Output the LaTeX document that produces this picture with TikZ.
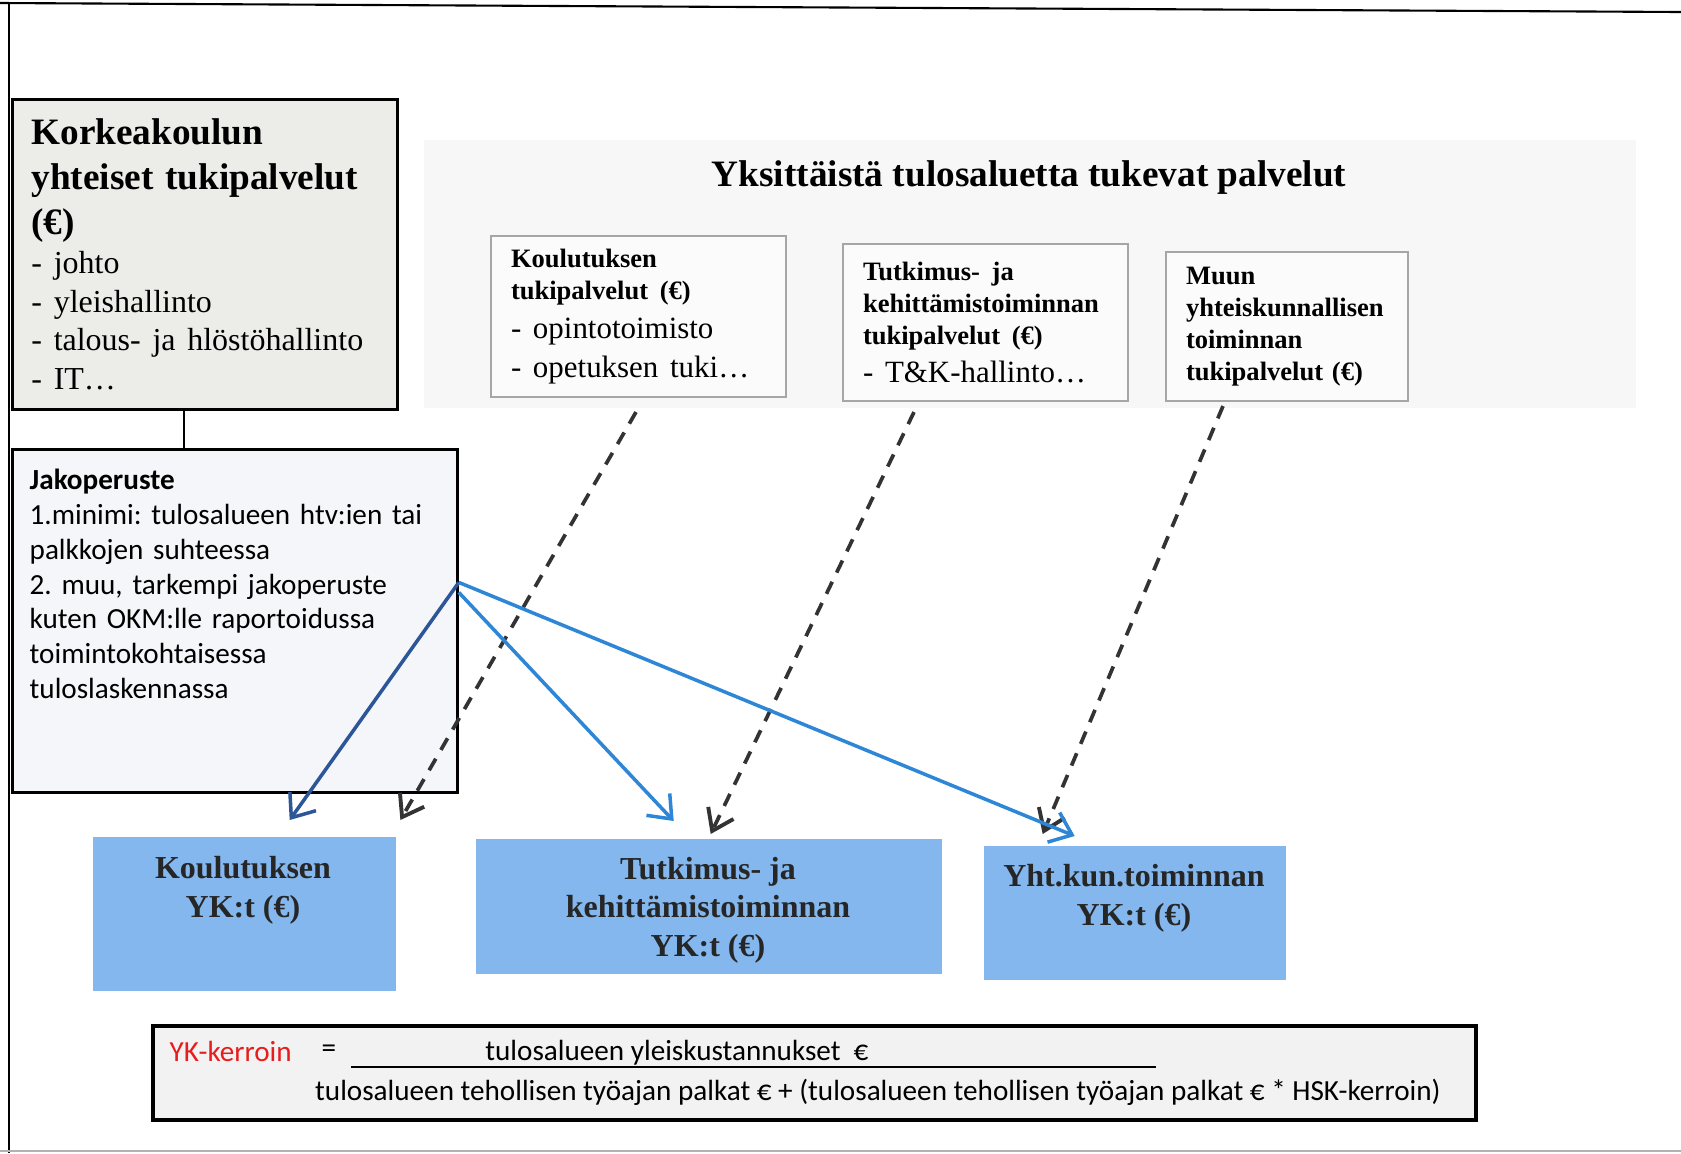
\documentclass[tikz,border=0pt]{standalone}
\usepackage{fontspec}
\setmainfont{Liberation Serif}
\newfontfamily\calibri{Carlito}
\usetikzlibrary{arrows.meta,positioning}
\frenchspacing

\definecolor{ykblue}{RGB}{131,183,238}
\definecolor{arrowblue}{RGB}{46,134,214}
\definecolor{darkblue}{RGB}{44,86,152}
\definecolor{panelgray}{RGB}{247,247,247}
\definecolor{boxgray}{RGB}{236,236,233}
\definecolor{jakogray}{RGB}{244,246,249}
\definecolor{kerroinred}{RGB}{232,28,28}

\begin{document}
\begin{tikzpicture}[x=0.1mm,y=-0.1mm,
	bigbox/.style={draw=black,line width=0.8pt,anchor=north west,inner sep=0pt},
	supbox/.style={draw=gray!70,line width=0.6pt,fill=white!50!panelgray,align=left,inner xsep=2mm,inner ysep=0pt},
	ykbox/.style={fill=ykblue,anchor=north west,inner sep=0pt},
	yktext/.style={align=center,font=\bfseries\fontsize{9.1}{11}\selectfont,text=black!85},
	formula/.style={font=\calibri\fontsize{8.3}{10}\selectfont,inner sep=0pt},
	dasharrow/.style={line width=1.05pt,black!80,dash pattern=on 3.8pt off 2.9pt,-{Straight Barb[length=2mm,width=2.8mm,line width=1.1pt]}},
	bluearrow/.style={line width=1pt,-{Straight Barb[length=2mm,width=3.2mm]}}]
	\useasboundingbox (0,0) rectangle (1681,1153);
	\draw[line width=0.6pt] (0,3) -- (1681,12);
	\draw[line width=0.6pt] (9,3) -- (9,1153);
	\draw[gray!60,line width=0.6pt] (0,1151) -- (1681,1151);

	\node[bigbox,fill=boxgray,minimum width=38.5mm,minimum height=31mm,text width=34.7mm,align=left,inner xsep=1.9mm] (korkea) at (11,98)
		{{\bfseries\fontsize{10.6}{12.8}\selectfont Korkeakoulun\\ yhteiset tukipalvelut\\ (€)\par}\fontsize{9.1}{11}\selectfont - johto\\ - yleishallinto\\ - talous- ja hlöstöhallinto\\ - IT…\par};
	\node[bigbox,fill=jakogray,minimum width=44.5mm,minimum height=34.3mm] (jako) at (11,448) {};
	\node[anchor=west,text width=41mm,align=left,inner sep=0pt,font=\calibri\fontsize{8.3}{9.9}\selectfont] (jakotxt) at (29,584)
		{\textbf{Jakoperuste}\\ 1.minimi: tulosalueen htv:ien tai\\ palkkojen suhteessa\\ 2. muu, tarkempi jakoperuste\\ kuten OKM:lle raportoidussa\\ toimintokohtaisessa\\ tuloslaskennassa};
	\draw[line width=0.8pt] ([xshift=17.3mm]korkea.south west) -- ([xshift=17.3mm]jako.north west);

	\node[fill=panelgray,anchor=north west,inner sep=0pt,minimum width=121.2mm,minimum height=26.8mm] (panel) at (423,139) {};
	\node[font=\bfseries\fontsize{10.6}{12.8}\selectfont] (otsikko) at (1029,178) {Yksittäistä tulosaluetta tukevat palvelut};
	\node[supbox,minimum width=29.5mm,minimum height=16.1mm,text width=25.5mm] (koulsup) at (638.5,316.5)
		{{\bfseries\fontsize{7.55}{9.1}\selectfont Koulutuksen\\ tukipalvelut (€)\par}\fontsize{8.8}{11}\selectfont - opintotoimisto\\ - opetuksen tuki…\par};
	\node[supbox,minimum width=28.5mm,minimum height=15.7mm,text width=24.5mm] (tksup) at (985.5,322.5)
		{{\bfseries\fontsize{7.55}{9.1}\selectfont Tutkimus- ja\\ kehittämistoiminnan\\ tukipalvelut (€)\par}\fontsize{8.8}{11}\selectfont - T\&K-hallinto…\par};
	\node[supbox,minimum width=24.2mm,minimum height=14.9mm,text width=20.2mm,font=\bfseries\fontsize{7.55}{9.1}\selectfont] (muusup) at (1287,326.5)
		{Muun\\ yhteiskunnallisen\\ toiminnan\\ tukipalvelut (€)};

	\node[ykbox,minimum width=30.3mm,minimum height=15.4mm] (ykkoul) at (92,836) {};
	\node[yktext] (ykkoultxt) at (243,890) {Koulutuksen\\ YK:t (€)};
	\node[ykbox,minimum width=46.6mm,minimum height=13.5mm] (yktk) at (475,838) {};
	\node[yktext] (yktktxt) at (708,910) {Tutkimus- ja\\ kehittämistoiminnan\\ YK:t (€)};
	\node[ykbox,minimum width=30.2mm,minimum height=13.4mm] (ykyht) at (983,845) {};
	\node[yktext] (ykyhttxt) at (1134,898) {Yht.kun.toiminnan\\ YK:t (€)};

	\draw[dasharrow] ([xshift=-0.25mm,yshift=-1.4mm]koulsup.south) -- ([xshift=0.4mm,yshift=1.6mm]ykkoul.north east);
	\draw[dasharrow] ([xshift=-7.15mm,yshift=-1mm]tksup.south) -- ([xshift=0.2mm,yshift=0.4mm]yktk.north);
	\draw[dasharrow] ([xshift=-6.4mm,yshift=-0.4mm]muusup.south) -- ([xshift=-9.2mm,yshift=1.1mm]ykyht.north);
	\draw[bluearrow,darkblue] ([yshift=3.85mm]jako.east) -- ([xshift=4.55mm,yshift=1.6mm]ykkoul.north);
	\draw[bluearrow,arrowblue] ([yshift=2.85mm]jako.east) -- ([xshift=-3.5mm,yshift=1.7mm]yktk.north);
	\draw[bluearrow,arrowblue] ([yshift=3.85mm]jako.east) -- ([xshift=-6mm,yshift=0.9mm]ykyht.north);

	\node[bigbox,fill=gray!10,line width=1.1pt,minimum width=132.3mm,minimum height=9.4mm] (kaava) at (151,1024) {};
	\node[formula,anchor=west,text=kerroinred] (kerroin) at (169,1051) {YK-kerroin};
	\node[formula] (yhtasuuri) at (329,1051) {=};
	\node[formula] (osoittaja) at (677,1053) {tulosalueen yleiskustannukset\ \ €};
	\coordinate (viiva1) at (351,1067);
	\coordinate (viiva2) at (1156,1067);
	\draw[line width=0.6pt] (viiva1) -- (viiva2);
	\node[formula] (nimittaja) at (878,1092) {tulosalueen tehollisen työajan palkat € + (tulosalueen tehollisen työajan palkat € * HSK-kerroin)};
\end{tikzpicture}
\end{document}
